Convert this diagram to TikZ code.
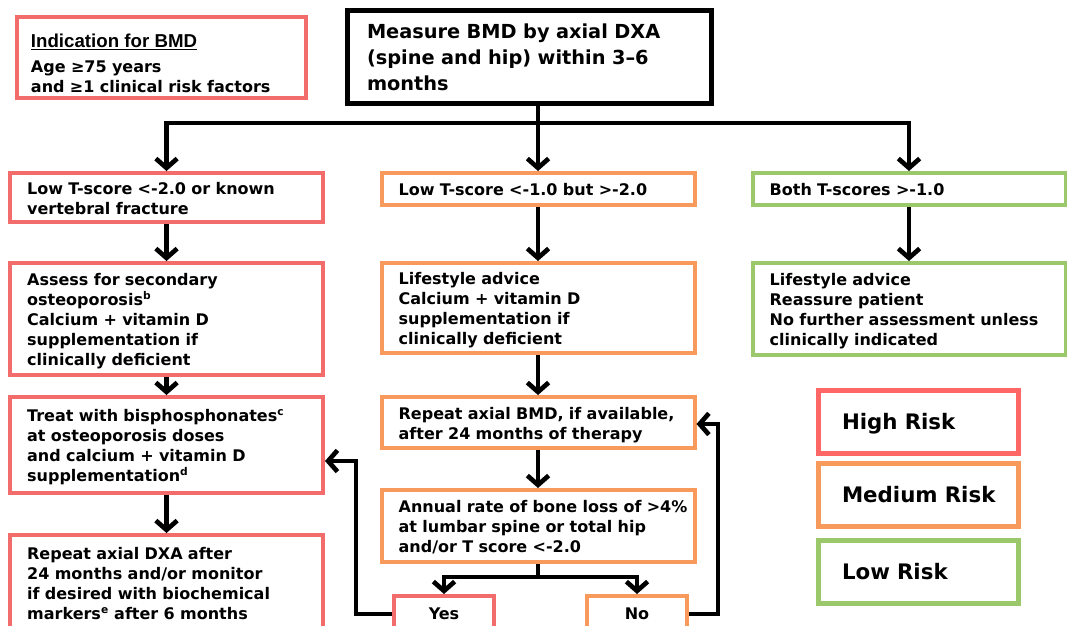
\documentclass[tikz,border=0pt]{standalone}
\usepackage{fontspec}
\setmainfont{DejaVu Sans}
\newfontfamily\headfont{Liberation Sans}[UprightFont={* Bold}]
\usetikzlibrary{arrows.meta}
\definecolor{hi}{HTML}{F26C6C}
\definecolor{hileg}{HTML}{FF6666}
\definecolor{med}{HTML}{F79A5B}
\definecolor{lo}{HTML}{9BC86A}
\newcommand{\lines}[1]{\raisebox{-2pt}[\height][\depth]{\begin{tabular}{@{}l@{}}#1\end{tabular}}}
\begin{document}
\begin{tikzpicture}[x=0.75pt,y=-0.75pt,
  txt/.style={font=\bfseries\fontsize{12}{15}\selectfont},
  bx/.style={draw, line width=3pt, fill=white, align=left, inner ysep=0pt, txt},
  rowbox/.style={bx, text width=209pt, inner xsep=12.75pt, minimum width=234.75pt},
  ynbox/.style={bx, align=center, minimum width=75pt, minimum height=27pt},
  legbox/.style={bx, line width=3.75pt, text width=114pt, inner xsep=18pt, minimum width=150pt,
    minimum height=47.25pt, font=\bfseries\fontsize{16}{19}\selectfont},
  ln/.style={line width=3.5pt},
  conn/.style={ln, -{Straight Barb[length=7pt,width=16pt]}}
]
\useasboundingbox (0,0) rectangle (1067,625);
\clip (0,0) rectangle (1067,625);
\fill[white] (0,0) rectangle (1067,625);

% top
\node[bx, draw=hi, text width=195.75pt, inner xsep=10.5pt, minimum width=216.75pt, minimum height=60.75pt]
  (ind) at (161.5,57.5) {\lines{\rule{0pt}{19pt}{\headfont\mdseries\fontsize{14}{16}\selectfont\underline{Indication for BMD}}\\[4pt]
  Age ≥75 years\\ and ≥1 clinical risk factors}};
\node[bx, draw=black, line width=3.75pt, text width=243pt, inner xsep=15pt, minimum width=273pt, minimum height=69.75pt,
  font=\bfseries\fontsize{14.5}{19.5}\selectfont]
  (meas) at (529,56.5) {\lines{Measure BMD by axial DXA\\ (spine and hip) within 3–6\\ months}};

% row 1
\node[rowbox, draw=hi, minimum height=36.75pt] (l1) at (166.5,197.5) {\lines{Low T-score <-2.0 or known\\ vertebral fracture}};
\node[rowbox, draw=med, minimum height=24pt] (m1) at (538,189) {\lines{Low T-score <-1.0 but >-2.0}};
\node[rowbox, draw=lo, minimum height=24pt] (r1) at (909,189) {\lines{Both T-scores >-1.0}};

% row 2
\node[rowbox, draw=hi, minimum height=84pt] (l2) at (166.5,319) {\lines{Assess for secondary\\ osteoporosis\textsuperscript{b}\\ Calcium + vitamin D\\ supplementation if\\ clinically deficient}};
\node[rowbox, draw=med, minimum height=67.5pt] (m2) at (538,308) {\lines{Lifestyle advice\\ Calcium + vitamin D\\ supplementation if\\ clinically deficient}};
\node[rowbox, draw=lo, minimum height=69pt] (r2) at (909,309) {\lines{Lifestyle advice\\ Reassure patient\\ No further assessment unless\\ clinically indicated}};

% row 3/4
\node[rowbox, draw=hi, minimum height=72pt] (l3) at (166.5,445) {\lines{Treat with bisphosphonates\textsuperscript{c}\\ at osteoporosis doses\\ and calcium + vitamin D\\ supplementation\textsuperscript{d}}};
\node[rowbox, draw=hi, minimum height=72pt] (l4) at (166.5,583) {\lines{Repeat axial DXA after\\ 24 months and/or monitor\\ if desired with biochemical\\ markers\textsuperscript{e} after 6 months}};
\node[rowbox, draw=med, minimum height=38.25pt] (m3) at (538,422.5) {\lines{Repeat axial BMD, if available,\\ after 24 months of therapy}};
\node[rowbox, draw=med, minimum height=54pt] (m4) at (538,526) {\lines{Annual rate of bone loss of >4\%\\ at lumbar spine or total hip\\ and/or T score <-2.0}};

\node[ynbox, draw=hi] (yes) at (444,614) {Yes};
\node[ynbox, draw=med] (no) at (637,614) {No};

% legend
\node[legbox, draw=hileg] (high) at (918,421.5) {\lines{High Risk}};
\node[legbox, draw=med] (medium) at (918,495) {\lines{Medium Risk}};
\node[legbox, draw=lo] (low) at (918,571.5) {\lines{Low Risk}};

% connectors
\coordinate (br) at (538,123);
\draw[ln] (br |- meas.south) -- (br);
\draw[ln] (l1.north |- br) -- (r1.north |- br);
\draw[conn] (br) -| (l1.north);
\draw[conn] (br) -- (m1.north);
\draw[conn] (br) -| (r1.north);

\draw[conn] (l1.south) -- (l2.north);
\draw[conn] (l2.south) -- (l3.north);
\draw[conn] (l3.south) -- (l4.north);
\draw[conn] (m1.south) -- (m2.north);
\draw[conn] (m2.south) -- (m3.north);
\draw[conn] (m3.south) -- (m4.north);
\draw[conn] (r1.south) -- (r2.north);

\coordinate (sp) at (538,577);
\draw[ln] (m4.south) -- (sp);
\draw[ln] (yes.north |- sp) -- (no.north |- sp);
\draw[conn] (sp) -| (yes.north);
\draw[conn] (sp) -| (no.north);

\coordinate (ya) at (356,461);
\draw[conn] (yes.west) -| (ya) -- (ya -| l3.east);
\coordinate (na) at (718,424);
\draw[conn] (no.east) -| (na) -- (na -| m3.east);
\end{tikzpicture}
\end{document}
